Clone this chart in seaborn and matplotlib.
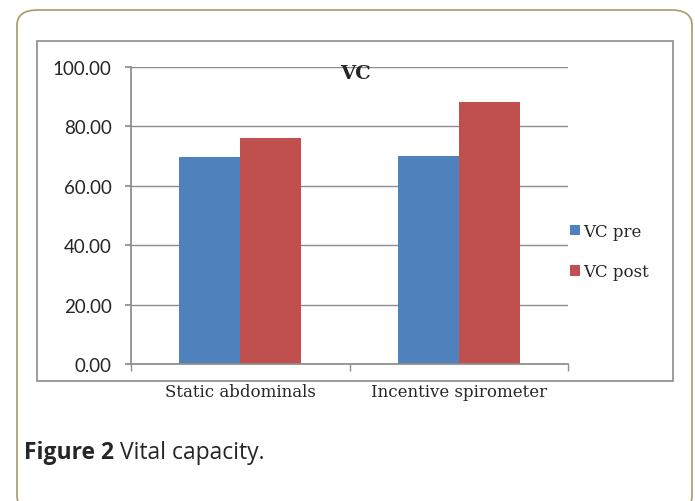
import matplotlib
matplotlib.use("Agg")
import matplotlib.pyplot as plt
import seaborn as sns
import pandas as pd
from matplotlib.patches import FancyBboxPatch, Rectangle, Patch

categories = ["Static abdominals", "Incentive spirometer"]
series = ["VC pre", "VC post"]
vc_pre = [69.7, 70.1]
vc_post = [76.0, 88.1]
yticks = [0, 20, 40, 60, 80, 100]
title = "VC"
colors = ["#4F81BD", "#C0504D"]

df = pd.DataFrame({
    "category": categories * 2,
    "series": [series[0]] * 2 + [series[1]] * 2,
    "value": vc_pre + vc_post,
})

sns.set_theme(style="white")
W, H = 695, 502
fig = plt.figure(figsize=(W / 100, H / 100), dpi=100)

def fx(x): return x / W
def fy(y): return 1 - y / H

# outer rounded frame
outer = FancyBboxPatch((fx(17), fy(512)), fx(692) - fx(17), fy(11) - fy(512),
                       boxstyle="round,pad=0,rounding_size=0.03",
                       transform=fig.transFigure, fill=False,
                       edgecolor="#A89968", linewidth=1.2, clip_on=False)
fig.patches.append(outer)
# inner chart frame
inner = Rectangle((fx(37), fy(382)), fx(673) - fx(37), fy(42) - fy(382),
                  transform=fig.transFigure, fill=False, edgecolor="#8C8C8C",
                  linewidth=1.2)
fig.patches.append(inner)

ax = fig.add_axes([fx(131), fy(365), fx(568) - fx(131), fy(68) - fy(365)])
sns.barplot(data=df, x="category", y="value", hue="series", palette=colors,
            width=0.56, ax=ax, legend=False, saturation=1, linewidth=0)

ax.set_ylim(0, 100)
ax.set_xlim(-0.5, 1.5)
ax.set_yticks(yticks)
ax.set_yticklabels([f"{v:.2f}" for v in yticks], fontfamily="Lato", fontsize=13.5)
ax.yaxis.grid(True, color="#8C8C8C", linewidth=1)
ax.set_axisbelow(True)
for s in ["top", "right"]:
    ax.spines[s].set_visible(False)
ax.spines["left"].set_color("#8C8C8C")
ax.spines["bottom"].set_color("#8C8C8C")
ax.tick_params(axis="y", which="both", left=True, length=4.5, color="#8C8C8C", pad=9.5)
ax.set_xticks([0, 1])
ax.set_xticklabels(categories, fontfamily="DejaVu Serif", fontsize=12)
ax.set_xticks([-0.5, 0.5, 1.5], minor=True)
ax.tick_params(axis="x", which="major", length=0, pad=13.5)
ax.tick_params(axis="x", which="minor", bottom=True, length=5, color="#8C8C8C")
ax.set_xlabel("")
ax.set_ylabel("")

fig.text(fx(355), fy(74), title, ha="center", va="center",
         fontfamily="DejaVu Serif", fontweight="bold", fontsize=14)

handles = [Patch(facecolor=c, edgecolor="none") for c in colors]
fig.legend(handles, series, loc="center left", bbox_to_anchor=(fx(555), fy(252.5)),
           frameon=False, prop={"family": "DejaVu Serif", "size": 12},
           handlelength=0.6, handleheight=0.6, handletextpad=0.2, labelspacing=1.42)

t1 = fig.text(fx(24), fy(453), "Figure 2", ha="left", va="center",
              fontfamily="Open Sans", fontweight="bold", fontsize=16.5)
renderer = fig.canvas.get_renderer()
bb = t1.get_window_extent(renderer=renderer)
space_px = 6
fig.text((bb.x1 + space_px) / W, fy(453), "Vital capacity.", ha="left", va="center",
         fontfamily="Open Sans", fontsize=16.5)

fig.savefig("out.png", dpi=100)
